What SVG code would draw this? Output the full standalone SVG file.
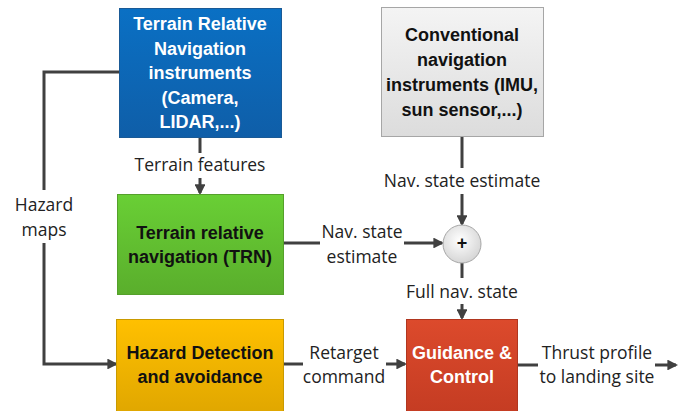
<svg xmlns="http://www.w3.org/2000/svg" width="682" height="411" viewBox="0 0 682 411">
<defs>
<linearGradient id="gBlue" x1="0" y1="0" x2="0" y2="1"><stop offset="0" stop-color="#0a70c4"/><stop offset="1" stop-color="#0f5ea8"/></linearGradient>
<linearGradient id="gGray" x1="0" y1="0" x2="0" y2="1"><stop offset="0" stop-color="#f4f4f4"/><stop offset="1" stop-color="#dcdcdc"/></linearGradient>
<linearGradient id="gGreen" x1="0" y1="0" x2="0" y2="1"><stop offset="0" stop-color="#69cf35"/><stop offset="1" stop-color="#5aae2c"/></linearGradient>
<linearGradient id="gOrange" x1="0" y1="0" x2="0" y2="1"><stop offset="0" stop-color="#ffc000"/><stop offset="1" stop-color="#dea500"/></linearGradient>
<linearGradient id="gRed" x1="0" y1="0" x2="0" y2="1"><stop offset="0" stop-color="#dc4a2c"/><stop offset="1" stop-color="#c33b22"/></linearGradient>
<radialGradient id="gCircle" cx="0.45" cy="0.4" r="0.6"><stop offset="0" stop-color="#ffffff"/><stop offset="1" stop-color="#d6d6d6"/></radialGradient>
<marker id="arr" viewBox="0 0 10 10" refX="8" refY="5" markerWidth="3.6" markerHeight="3.6" markerUnits="strokeWidth" orient="auto">
<path d="M0,0 L10,5 L0,10 z" fill="#404040"/>
</marker>
</defs>
<style>
.box{stroke-width:1}
.bt{font-family:"Liberation Sans",Arial,sans-serif;font-weight:bold;font-size:18px;text-anchor:middle}
.lb{font-family:"Open Sans","Liberation Sans",Arial,sans-serif;font-size:17.5px;text-anchor:middle;fill:#222}
.c{fill:none;stroke:#404040;stroke-width:3}
</style>
<g id="connectors">
<path class="c" d="M119,72 H44 V190"/>
<path class="c" d="M44,243 V364 H116" marker-end="url(#arr)"/>
<path class="c" d="M200,137 V153"/>
<path class="c" d="M200,178 V193" marker-end="url(#arr)"/>
<path class="c" d="M462,137 V168"/>
<path class="c" d="M462,194 V224" marker-end="url(#arr)"/>
<path class="c" d="M283,243 H320"/>
<path class="c" d="M404,243 H442" marker-end="url(#arr)"/>
<path class="c" d="M462,263 V278"/>
<path class="c" d="M462,304 V318" marker-end="url(#arr)"/>
<path class="c" d="M283,364 H303"/>
<path class="c" d="M386,364 H405" marker-end="url(#arr)"/>
<path class="c" d="M517,365 H538"/>
<path class="c" d="M655,365 H676" marker-end="url(#arr)"/>
<text class="lb" x="200" y="171">Terrain features</text>
<text class="lb" x="462" y="187">Nav. state estimate</text>
<text class="lb" x="362" y="238">Nav. state</text>
<text class="lb" x="362" y="263">estimate</text>
<text class="lb" x="462" y="298">Full nav. state</text>
<text class="lb" x="344" y="359">Retarget</text>
<text class="lb" x="344" y="383">command</text>
<text class="lb" x="597" y="359">Thrust profile</text>
<text class="lb" x="597" y="383">to landing site</text>
<text class="lb" x="44" y="211">Hazard</text>
<text class="lb" x="44" y="236">maps</text>
</g>
<g id="trn-instruments">
<rect class="box" x="119.5" y="8.5" width="162" height="129" fill="url(#gBlue)" stroke="#1a5a96"/>
<text class="bt" fill="#fff"><tspan x="200" y="30">Terrain Relative</tspan><tspan x="200" y="54.5">Navigation</tspan><tspan x="200" y="79">instruments</tspan><tspan x="200" y="103.5">(Camera,</tspan><tspan x="200" y="128">LIDAR,...)</tspan></text>
</g>
<g id="conventional-instruments">
<rect class="box" x="381.5" y="7.5" width="162" height="129" fill="url(#gGray)" stroke="#a6a6a6"/>
<text class="bt" fill="#111"><tspan x="462" y="41">Conventional</tspan><tspan x="462" y="66">navigation</tspan><tspan x="462" y="91">instruments (IMU,</tspan><tspan x="462" y="116">sun sensor,...)</tspan></text>
</g>
<g id="trn">
<rect class="box" x="117.5" y="194.5" width="166" height="100" fill="url(#gGreen)" stroke="#55a02b"/>
<text class="bt" fill="#111"><tspan x="200" y="239">Terrain relative</tspan><tspan x="200" y="263">navigation (TRN)</tspan></text>
</g>
<g id="sum">
<circle cx="462" cy="244" r="19" fill="url(#gCircle)" stroke="#a6a6a6" stroke-width="1"/>
<text class="bt" x="462" y="249" font-size="14" fill="#111">+</text>
</g>
<g id="hazard-detection">
<rect class="box" x="116.5" y="319.5" width="167" height="100" fill="url(#gOrange)" stroke="#c99a00"/>
<text class="bt" fill="#111"><tspan x="200" y="359">Hazard Detection</tspan><tspan x="200" y="383">and avoidance</tspan></text>
</g>
<g id="guidance-control">
<rect class="box" x="406.5" y="319.5" width="111" height="100" fill="url(#gRed)" stroke="#b0361f"/>
<text class="bt" fill="#fff"><tspan x="462" y="359">Guidance &amp;</tspan><tspan x="462" y="383">Control</tspan></text>
</g>
</svg>
